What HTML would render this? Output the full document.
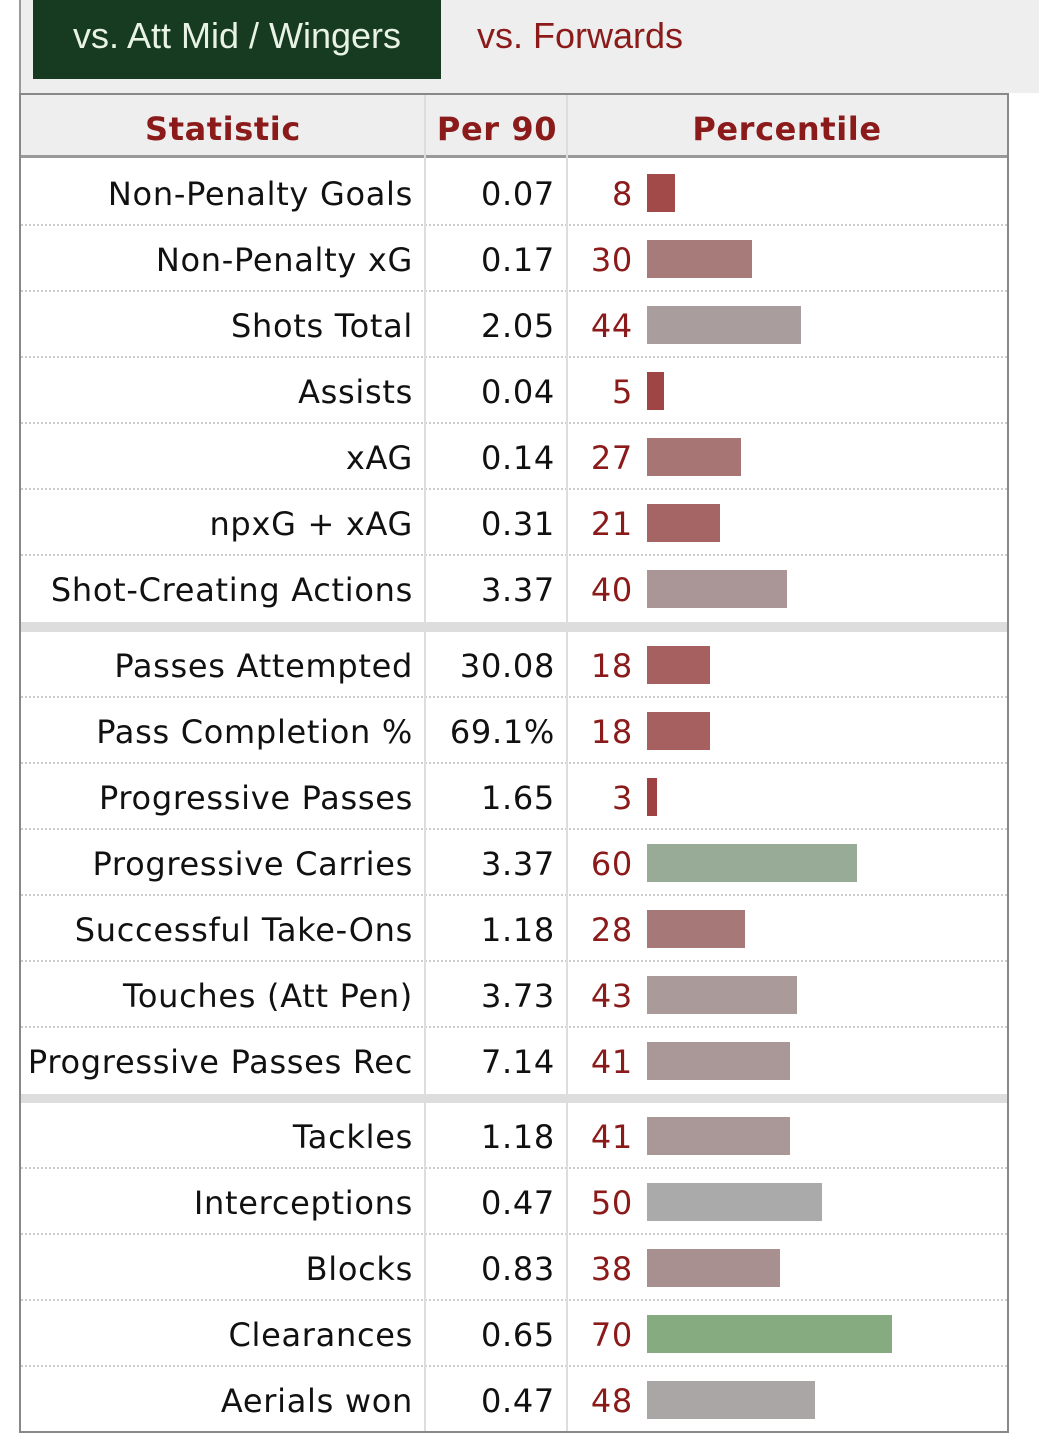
<!DOCTYPE html>
<html><head><meta charset="utf-8"><style>
*{margin:0;padding:0;box-sizing:border-box}
body{width:1039px;height:1453px;background:#fff;position:relative;overflow:hidden;font-family:"DejaVu Sans","Liberation Sans",sans-serif}
.a{position:absolute}
.tabs{left:19px;top:0;width:1020px;height:93px;background:#eee;border-left:2px solid #999}
.tab1{left:33px;top:0;width:408px;height:79px;background:#173b20;color:#e8f3e6;font:36px "Liberation Sans",sans-serif;line-height:72px;text-align:center}
.tab2{left:477px;top:0;height:79px;color:#8b1a1a;font:36px "Liberation Sans",sans-serif;line-height:72px}
.tbl{left:19px;top:93px;width:990px;height:1340px;border:2px solid #888;background:#fff}
.hdr{left:21px;top:95px;width:986px;height:63px;background:#eee;border-bottom:3px solid #999}
.h{color:#8b1a1a;font-weight:bold;font-size:32px;letter-spacing:0.6px;top:110px;text-align:center}
.vl{width:2px;background:#ddd;top:95px;height:1336px}
.row{left:21px;width:986px;height:66px;border-bottom:2px dotted #ccc}
.row span{letter-spacing:0.7px;font-size:32px;top:15px;position:absolute;white-space:nowrap}
.lab{right:594px;color:#111}
.val{right:452px;color:#111}
.pct{right:374px;color:#8b1a1a}
.bar{position:absolute;left:626px;top:14px;height:38px}
.band{left:21px;width:986px;height:10px;background:#ddd}
</style></head><body>
<div class="a tabs"></div>
<div class="a tab1">vs. Att Mid / Wingers</div>
<div class="a tab2">vs. Forwards</div>
<div class="a tbl"></div>
<div class="a hdr"></div>
<div class="a h" style="left:21px;width:404px">Statistic</div>
<div class="a h" style="left:427px;width:140px">Per 90</div>
<div class="a h" style="left:567px;width:440px">Percentile</div>

<div class="a row" style="top:160px"><span class="lab">Non-Penalty Goals</span><span class="val">0.07</span><span class="pct">8</span><div class="bar" style="width:28px;background:#a24a4a"></div></div>
<div class="a row" style="top:226px"><span class="lab">Non-Penalty xG</span><span class="val">0.17</span><span class="pct">30</span><div class="bar" style="width:105px;background:#a87b7b"></div></div>
<div class="a row" style="top:292px"><span class="lab">Shots Total</span><span class="val">2.05</span><span class="pct">44</span><div class="bar" style="width:154px;background:#aa9d9d"></div></div>
<div class="a row" style="top:358px"><span class="lab">Assists</span><span class="val">0.04</span><span class="pct">5</span><div class="bar" style="width:17px;background:#a04545"></div></div>
<div class="a row" style="top:424px"><span class="lab">xAG</span><span class="val">0.14</span><span class="pct">27</span><div class="bar" style="width:94px;background:#a87575"></div></div>
<div class="a row" style="top:490px"><span class="lab">npxG + xAG</span><span class="val">0.31</span><span class="pct">21</span><div class="bar" style="width:73px;background:#a66565"></div></div>
<div class="a row" style="top:556px;border-bottom:none"><span class="lab">Shot-Creating Actions</span><span class="val">3.37</span><span class="pct">40</span><div class="bar" style="width:140px;background:#aa9696"></div></div>
<div class="a band" style="top:622px"></div>

<div class="a row" style="top:632px"><span class="lab">Passes Attempted</span><span class="val">30.08</span><span class="pct">18</span><div class="bar" style="width:63px;background:#a66060"></div></div>
<div class="a row" style="top:698px"><span class="lab">Pass Completion %</span><span class="val">69.1%</span><span class="pct">18</span><div class="bar" style="width:63px;background:#a66060"></div></div>
<div class="a row" style="top:764px"><span class="lab">Progressive Passes</span><span class="val">1.65</span><span class="pct">3</span><div class="bar" style="width:10px;background:#a04242"></div></div>
<div class="a row" style="top:830px"><span class="lab">Progressive Carries</span><span class="val">3.37</span><span class="pct">60</span><div class="bar" style="width:210px;background:#98ab96"></div></div>
<div class="a row" style="top:896px"><span class="lab">Successful Take-Ons</span><span class="val">1.18</span><span class="pct">28</span><div class="bar" style="width:98px;background:#a77878"></div></div>
<div class="a row" style="top:962px"><span class="lab">Touches (Att Pen)</span><span class="val">3.73</span><span class="pct">43</span><div class="bar" style="width:150px;background:#aa9a9a"></div></div>
<div class="a row" style="top:1028px;border-bottom:none"><span class="lab">Progressive Passes Rec</span><span class="val">7.14</span><span class="pct">41</span><div class="bar" style="width:143px;background:#aa9898"></div></div>
<div class="a band" style="top:1094px;height:9px"></div>

<div class="a row" style="top:1103px"><span class="lab">Tackles</span><span class="val">1.18</span><span class="pct">41</span><div class="bar" style="width:143px;background:#aa9898"></div></div>
<div class="a row" style="top:1169px"><span class="lab">Interceptions</span><span class="val">0.47</span><span class="pct">50</span><div class="bar" style="width:175px;background:#aaaaaa"></div></div>
<div class="a row" style="top:1235px"><span class="lab">Blocks</span><span class="val">0.83</span><span class="pct">38</span><div class="bar" style="width:133px;background:#a99090"></div></div>
<div class="a row" style="top:1301px"><span class="lab">Clearances</span><span class="val">0.65</span><span class="pct">70</span><div class="bar" style="width:245px;background:#86ab80"></div></div>
<div class="a row" style="top:1367px;border-bottom:none"><span class="lab">Aerials won</span><span class="val">0.47</span><span class="pct">48</span><div class="bar" style="width:168px;background:#aba6a6"></div></div>

<div class="a vl" style="left:424px"></div>
<div class="a vl" style="left:566px"></div>
</body></html>
